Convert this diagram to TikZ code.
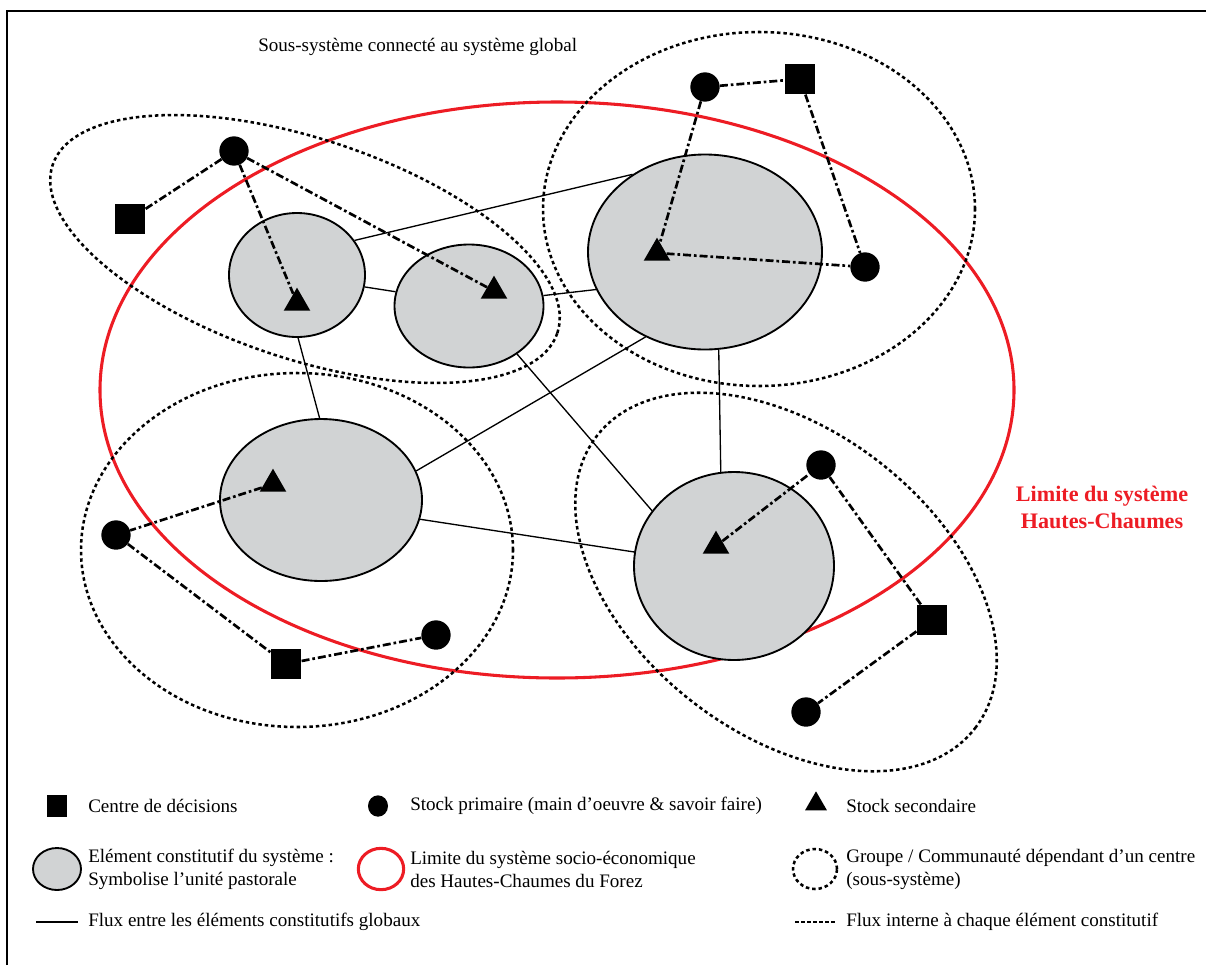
\documentclass[tikz,border=0pt]{standalone}
\usepackage{fontspec}
\setmainfont{Liberation Serif}
\usetikzlibrary{shapes.geometric}
\definecolor{limred}{RGB}{237,28,36}
\definecolor{unitgray}{RGB}{209,211,212}
\tikzset{
  unit/.style={ellipse, draw, line width=1.4pt, fill=unitgray, inner sep=0pt},
  dotm/.style={circle, fill=black, inner sep=0pt, minimum size=22pt},
  sqm/.style={rectangle, fill=black, inner sep=0pt, minimum size=23pt},
  trim/.style={regular polygon, regular polygon sides=3, fill=black, inner sep=0pt, minimum size=23pt},
  glob/.style={line width=1pt},
  intflow/.style={line width=2pt, dash pattern=on 6pt off 2.2pt on 2pt off 2.2pt},
  grp/.style={line width=1.9pt, dash pattern=on 2.6pt off 2.2pt},
  lim/.style={draw=limred, line width=2.3pt},
  txt/.style={font=\fontsize{14.3}{17.25}\selectfont, inner sep=0pt, anchor=west, align=left},
}
\begin{document}
\begin{tikzpicture}[x=0.75pt, y=0.75pt]
\useasboundingbox (0,0) rectangle (1206,-965);
% frame
\draw[line width=2.2pt] (7,-965) -- (7,-11) -- (1206,-11);

% system limit
\draw[lim] (557,-390) ellipse [x radius=342.75pt, y radius=216pt];

% groups (sub-systems)
\draw[grp, rotate around={-18.4:(305,-249)}] (305,-249) ellipse [x radius=199.5pt, y radius=82.5pt];
\draw[grp] (759,-209) ellipse [x radius=162pt, y radius=132.75pt];
\draw[grp] (297,-550) ellipse [x radius=162pt, y radius=132.75pt];
\draw[grp, rotate around={-37.7:(786,-582)}] (786,-582) ellipse [x radius=179.25pt, y radius=114pt];

% units
\node[unit, minimum width=102pt, minimum height=93pt] (e1) at (297,-275) {};
\node[unit, minimum width=111.75pt, minimum height=92.25pt] (e2) at (469,-306) {};
\node[unit, minimum width=175.5pt, minimum height=146.25pt] (e3) at (705,-252) {};
\node[unit, minimum width=151.5pt, minimum height=121.5pt] (e4) at (321,-500) {};
\node[unit, minimum width=150pt, minimum height=141pt] (e5) at (734,-566) {};

% global flows
\draw[glob] (e1.31) -- (e3.133);
\draw[glob] (e1.-10) -- (e2.169);
\draw[glob] (e2.8) -- (e3.199);
\draw[glob] (e1.-89) -- (e4.91);
\draw[glob] (e2.-45) -- (e5.146);
\draw[glob] (e4.17) -- (e3.235);
\draw[glob] (e4.-11) -- (e5.172);
\draw[glob] (e3.-82) -- (e5.98);

% markers
\node[trim] (t1) at (297,-303) {};
\node[trim] (t2) at (494,-291) {};
\node[trim] (t3) at (657,-253) {};
\node[trim] (t4) at (273,-484) {};
\node[trim] (t5) at (716,-546) {};

\node[dotm] (c1) at (234,-151) {};
\node[dotm] (c2) at (705,-87) {};
\node[dotm] (c3) at (865,-267) {};
\node[dotm] (c4) at (116,-535) {};
\node[dotm] (c5) at (436,-635) {};
\node[dotm] (c6) at (821,-465) {};
\node[dotm] (c7) at (806,-712) {};

\node[sqm] (s1) at (130,-219) {};
\node[sqm] (s2) at (800,-79) {};
\node[sqm] (s3) at (286,-664) {};
\node[sqm] (s4) at (932,-620) {};

% internal flows
\draw[intflow] (s1) -- (c1);
\draw[intflow] (c1) -- (t1);
\draw[intflow] (c1) -- (t2);
\draw[intflow] (c2) -- (s2);
\draw[intflow] (c2) -- (t3);
\draw[intflow] (t3) -- (c3);
\draw[intflow] (s2) -- (c3);
\draw[intflow] (t4) -- (c4);
\draw[intflow] (c4) -- (s3);
\draw[intflow] (s3) -- (c5);
\draw[intflow] (t5) -- (c6);
\draw[intflow] (c6) -- (s4);
\draw[intflow] (s4) -- (c7);

% labels
\node[txt] (title) at (258,-47) {Sous-système connecté au système global};
\node[font=\fontsize{16.6}{20.25}\selectfont\bfseries, text=limred, align=center, inner sep=0pt] (limlab) at (1102,-507) {Limite du système\\Hautes-Chaumes};

% legend
\node[sqm, minimum width=15pt, minimum height=16pt] (lsq) at (57,-806) {};
\node[txt] (lsqt) at (88,-806) {Centre de décisions};
\node[ellipse, fill=black, inner sep=0pt, minimum width=15pt, minimum height=16pt] (ldot) at (378,-806) {};
\node[txt] (ldott) at (410,-806) {Stock primaire (main d’oeuvre \& savoir faire)};
\node[trim, minimum size=19pt] (ltri) at (816,-804) {};
\node[txt] (ltrit) at (846,-806) {Stock secondaire};

\node[unit, minimum width=36pt, minimum height=31.5pt] (lunit) at (57,-869) {};
\node[txt] (lunitt) at (88,-869) {Elément constitutif du système :\\Symbolise l’unité pastorale};
\node[ellipse, draw=limred, line width=2.3pt, minimum width=34pt, minimum height=31pt, inner sep=0pt] (llim) at (381,-869) {};
\node[txt] (llimt) at (410,-869) {Limite du système socio-économique\\des Hautes-Chaumes du Forez};
\node[ellipse, grp, draw, minimum width=33pt, minimum height=30pt, inner sep=0pt] (lgrp) at (815,-869) {};
\node[txt] (lgrpt) at (846,-869) {Groupe / Communauté dépendant d’un centre\\(sous-système)};

\coordinate (lg1) at (36,-922);
\coordinate (lg2) at (78,-922);
\draw[glob] (lg1) -- (lg2);
\node[txt] (lglobt) at (88,-922) {Flux entre les éléments constitutifs globaux};
\coordinate (li1) at (795,-922);
\coordinate (li2) at (835,-922);
\draw[line width=1.5pt, dash pattern=on 3pt off 1.5pt] (li1) -- (li2);
\node[txt] (lintt) at (846,-922) {Flux interne à chaque élément constitutif};
\end{tikzpicture}
\end{document}
